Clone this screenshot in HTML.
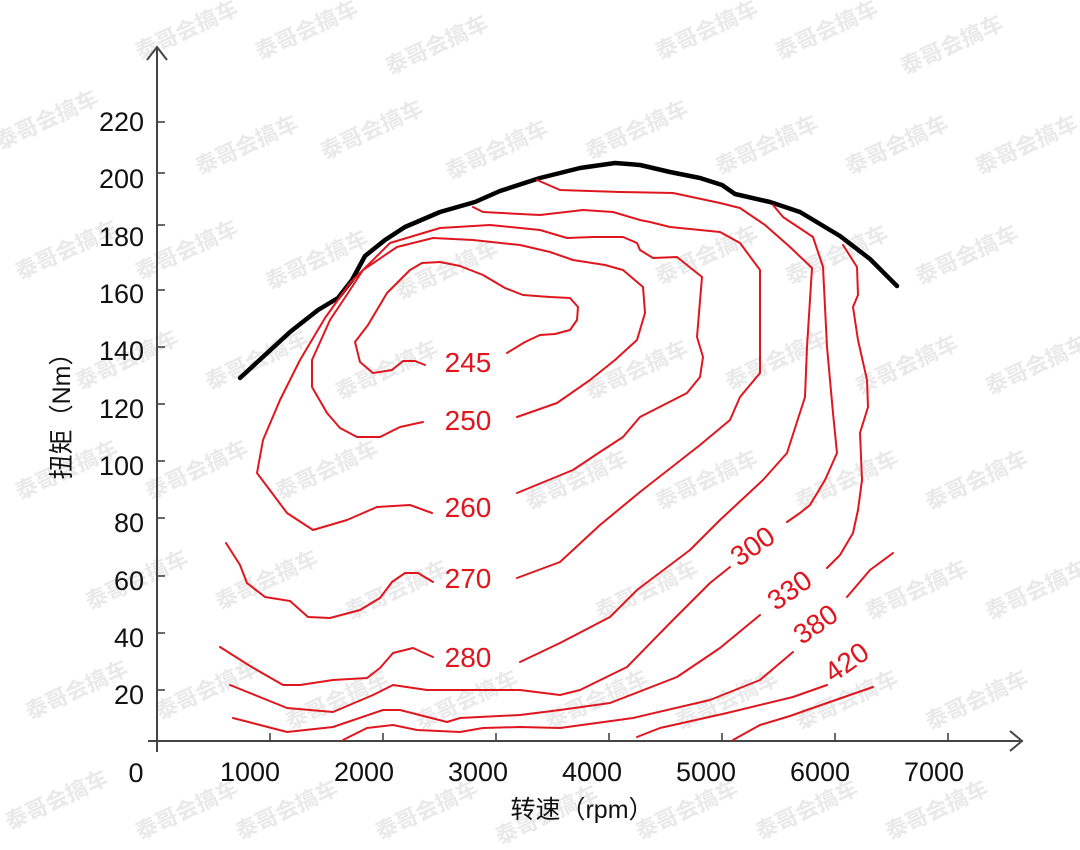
<!DOCTYPE html>
<html><head><meta charset="utf-8"><style>
html,body{margin:0;padding:0;background:#fff;}
svg{display:block;}
</style></head><body>
<svg width="1080" height="850" viewBox="0 0 1080 850" xmlns="http://www.w3.org/2000/svg">
<g font-family="Liberation Sans, Noto Sans CJK SC, sans-serif" font-size="22" fill="#e9e9e9" font-weight="bold">
<text transform="translate(140,60) rotate(-25)">泰哥会搞车</text>
<text transform="translate(260,60) rotate(-25)">泰哥会搞车</text>
<text transform="translate(390,75) rotate(-25)">泰哥会搞车</text>
<text transform="translate(660,60) rotate(-25)">泰哥会搞车</text>
<text transform="translate(780,60) rotate(-25)">泰哥会搞车</text>
<text transform="translate(905,75) rotate(-25)">泰哥会搞车</text>
<text transform="translate(0,150) rotate(-25)">泰哥会搞车</text>
<text transform="translate(200,175) rotate(-25)">泰哥会搞车</text>
<text transform="translate(325,160) rotate(-25)">泰哥会搞车</text>
<text transform="translate(450,180) rotate(-25)">泰哥会搞车</text>
<text transform="translate(590,160) rotate(-25)">泰哥会搞车</text>
<text transform="translate(720,175) rotate(-25)">泰哥会搞车</text>
<text transform="translate(850,175) rotate(-25)">泰哥会搞车</text>
<text transform="translate(980,175) rotate(-25)">泰哥会搞车</text>
<text transform="translate(20,280) rotate(-25)">泰哥会搞车</text>
<text transform="translate(140,280) rotate(-25)">泰哥会搞车</text>
<text transform="translate(270,290) rotate(-25)">泰哥会搞车</text>
<text transform="translate(400,300) rotate(-25)">泰哥会搞车</text>
<text transform="translate(660,285) rotate(-25)">泰哥会搞车</text>
<text transform="translate(790,285) rotate(-25)">泰哥会搞车</text>
<text transform="translate(920,285) rotate(-25)">泰哥会搞车</text>
<text transform="translate(80,390) rotate(-25)">泰哥会搞车</text>
<text transform="translate(210,390) rotate(-25)">泰哥会搞车</text>
<text transform="translate(340,400) rotate(-25)">泰哥会搞车</text>
<text transform="translate(590,400) rotate(-25)">泰哥会搞车</text>
<text transform="translate(730,390) rotate(-25)">泰哥会搞车</text>
<text transform="translate(860,395) rotate(-25)">泰哥会搞车</text>
<text transform="translate(990,395) rotate(-25)">泰哥会搞车</text>
<text transform="translate(20,500) rotate(-25)">泰哥会搞车</text>
<text transform="translate(150,500) rotate(-25)">泰哥会搞车</text>
<text transform="translate(280,500) rotate(-25)">泰哥会搞车</text>
<text transform="translate(530,510) rotate(-25)">泰哥会搞车</text>
<text transform="translate(660,510) rotate(-25)">泰哥会搞车</text>
<text transform="translate(800,510) rotate(-25)">泰哥会搞车</text>
<text transform="translate(930,510) rotate(-25)">泰哥会搞车</text>
<text transform="translate(90,610) rotate(-25)">泰哥会搞车</text>
<text transform="translate(220,610) rotate(-25)">泰哥会搞车</text>
<text transform="translate(350,620) rotate(-25)">泰哥会搞车</text>
<text transform="translate(600,620) rotate(-25)">泰哥会搞车</text>
<text transform="translate(870,620) rotate(-25)">泰哥会搞车</text>
<text transform="translate(990,620) rotate(-25)">泰哥会搞车</text>
<text transform="translate(30,720) rotate(-25)">泰哥会搞车</text>
<text transform="translate(160,720) rotate(-25)">泰哥会搞车</text>
<text transform="translate(290,730) rotate(-25)">泰哥会搞车</text>
<text transform="translate(420,730) rotate(-25)">泰哥会搞车</text>
<text transform="translate(550,730) rotate(-25)">泰哥会搞车</text>
<text transform="translate(680,730) rotate(-25)">泰哥会搞车</text>
<text transform="translate(800,730) rotate(-25)">泰哥会搞车</text>
<text transform="translate(930,730) rotate(-25)">泰哥会搞车</text>
<text transform="translate(10,830) rotate(-25)">泰哥会搞车</text>
<text transform="translate(140,840) rotate(-25)">泰哥会搞车</text>
<text transform="translate(240,840) rotate(-25)">泰哥会搞车</text>
<text transform="translate(380,840) rotate(-25)">泰哥会搞车</text>
<text transform="translate(500,845) rotate(-25)">泰哥会搞车</text>
<text transform="translate(640,840) rotate(-25)">泰哥会搞车</text>
<text transform="translate(760,840) rotate(-25)">泰哥会搞车</text>
<text transform="translate(890,840) rotate(-25)">泰哥会搞车</text>
</g>

<!-- axes -->
<g stroke="#444" stroke-width="2" fill="none">
<line x1="157" y1="752" x2="157" y2="47"/>
<polyline points="147,60 157,47 167,60"/>
<line x1="148" y1="741" x2="1020" y2="741"/>
<polyline points="1010,731 1022,741 1010,751"/>
<g stroke-width="1.6">
<line x1="157" y1="122" x2="165" y2="122"/><line x1="157" y1="173" x2="165" y2="173"/>
<line x1="157" y1="225" x2="165" y2="225"/><line x1="157" y1="290" x2="165" y2="290"/>
<line x1="157" y1="347" x2="165" y2="347"/><line x1="157" y1="404" x2="165" y2="404"/>
<line x1="157" y1="461" x2="165" y2="461"/><line x1="157" y1="518" x2="165" y2="518"/>
<line x1="157" y1="576" x2="165" y2="576"/><line x1="157" y1="633" x2="165" y2="633"/>
<line x1="157" y1="690" x2="165" y2="690"/>
<line x1="270" y1="741" x2="270" y2="733"/><line x1="383" y1="741" x2="383" y2="733"/>
<line x1="496" y1="741" x2="496" y2="733"/><line x1="609" y1="741" x2="609" y2="733"/>
<line x1="722" y1="741" x2="722" y2="733"/><line x1="835" y1="741" x2="835" y2="733"/>
<line x1="948" y1="741" x2="948" y2="733"/>
</g></g>

<g font-family="Liberation Sans, sans-serif" font-size="27" fill="#111" text-anchor="end">
<text x="144" y="131">220</text><text x="144" y="188">200</text><text x="144" y="246">180</text>
<text x="144" y="303">160</text><text x="144" y="360">140</text><text x="144" y="418">120</text>
<text x="144" y="475">100</text><text x="144" y="532">80</text><text x="144" y="590">60</text>
<text x="144" y="647">40</text><text x="144" y="704">20</text>
</g>
<g font-family="Liberation Sans, sans-serif" font-size="27" fill="#111" text-anchor="middle">
<text x="136" y="782">0</text>
<text x="250" y="781">1000</text><text x="364" y="781">2000</text><text x="478" y="781">3000</text>
<text x="592" y="781">4000</text><text x="706" y="781">5000</text><text x="820" y="781">6000</text>
<text x="934" y="781">7000</text>
<text x="582" y="818" font-size="25" font-family="Liberation Sans, Noto Sans CJK SC, sans-serif">转速（rpm）</text>
<text transform="translate(70,410) rotate(-90)" font-size="25" font-family="Liberation Sans, Noto Sans CJK SC, sans-serif">扭矩（Nm）</text>
</g>

<!-- black envelope -->
<path d="M240,378 L265,355 L290,332 L318,310 L338,298 L352,280 L365,256 L385,240 L405,227 L440,212 L475,202 L500,191 L540,178 L580,168 L615,163 L640,165 L670,172 L700,178 L722,185 L735,194 L770,202 L800,212 L840,236 L870,259 L897,286" stroke="#000" stroke-width="4.5" fill="none" stroke-linejoin="round" stroke-linecap="round"/>

<g stroke="#e0161e" stroke-width="2" fill="none" stroke-linejoin="round" stroke-linecap="round">
<!-- 245 -->
<path d="M425,365 L415,361 L403,361 L392,370 L373,373 L360,362 L355,342 L368,325 L387,293 L410,270 L422,263 L440,262 L460,266 L483,275 L505,288 L523,295 L550,297 L570,298 L578,307 L577,320 L570,330 L555,334 L540,335 L525,342 L507,353"/>
<!-- 250 -->
<path d="M423,422 L400,427 L380,437 L357,437 L340,428 L327,413 L312,387 L312,360 L330,320 L348,293 L363,270 L397,247 L433,238 L473,240 L520,245 L550,252 L573,260 L605,265 L623,270 L643,287 L645,313 L637,340 L615,360 L590,380 L557,403 L517,417"/>
<!-- 260 -->
<path d="M432,513 L410,505 L377,507 L347,520 L313,530 L287,513 L257,473 L263,440 L280,400 L300,360 L325,318 L350,283 L390,243 L440,228 L490,225 L540,230 L567,238 L593,237 L623,237 L637,243 L640,250 L653,258 L677,257 L702,277 L697,337 L703,357 L700,377 L687,393 L640,417 L623,437 L600,452 L573,470 L517,493"/>
<!-- 270 -->
<path d="M473,207 L483,212 L540,215 L583,210 L613,212 L640,220 L650,222 L670,227 L720,232 L740,243 L760,270 L760,373 L740,397 L730,420 L700,445 L640,492 L600,525 L560,562 L517,578"/>
<path d="M226,543 L240,565 L247,583 L265,597 L290,601 L308,617 L330,618 L360,610 L380,598 L392,582 L405,573 L418,573 L433,582"/>
<!-- 280 -->
<path d="M537,180 L560,190 L620,192 L673,193 L720,203 L740,208 L765,225 L790,247 L812,268 L807,347 L805,397 L787,453 L763,480 L720,520 L690,550 L637,590 L610,617 L560,643 L520,662"/>
<path d="M220,647 L250,666 L283,685 L300,685 L333,680 L367,678 L380,668 L393,653 L413,648 L433,657"/>
<!-- 300 -->
<path d="M773,205 L783,217 L813,237 L823,267 L827,347 L833,413 L837,453 L825,480 L810,505 L800,513 L787,522"/>
<path d="M230,685 L287,708 L333,712 L373,695 L393,685 L427,690 L483,690 L520,690 L560,695 L580,690 L627,667 L670,623 L710,583 L730,567"/>
<!-- 330 -->
<path d="M843,245 L857,267 L858,295 L853,307 L858,340 L867,380 L868,407 L860,433 L862,480 L858,510 L853,533 L840,555 L827,568"/>
<path d="M233,718 L287,732 L333,727 L383,710 L400,710 L447,722 L460,718 L520,715 L560,710 L610,703 L677,677 L720,648 L760,615"/>
<!-- 380 -->
<path d="M893,553 L870,570 L847,597"/>
<path d="M343,740 L367,728 L393,725 L417,730 L460,732 L483,728 L520,727 L560,728 L633,718 L710,700 L760,680 L793,652"/>
<!-- 420 -->
<path d="M637,737 L660,728 L727,713 L793,697 L827,685"/>
<path d="M733,740 L760,725 L790,716 L827,703 L873,687"/>
</g>

<g font-family="Liberation Sans, sans-serif" font-size="28" fill="#e0161e" text-anchor="middle">
<text x="468" y="372">245</text>
<text x="468" y="430">250</text>
<text x="468" y="517">260</text>
<text x="468" y="588">270</text>
<text x="468" y="667">280</text>
<text transform="translate(758,554) rotate(-35)">300</text>
<text transform="translate(795,598) rotate(-35)">330</text>
<text transform="translate(821,632) rotate(-35)">380</text>
<text transform="translate(852,670) rotate(-35)">420</text>
</g>
</svg>
</body></html>
